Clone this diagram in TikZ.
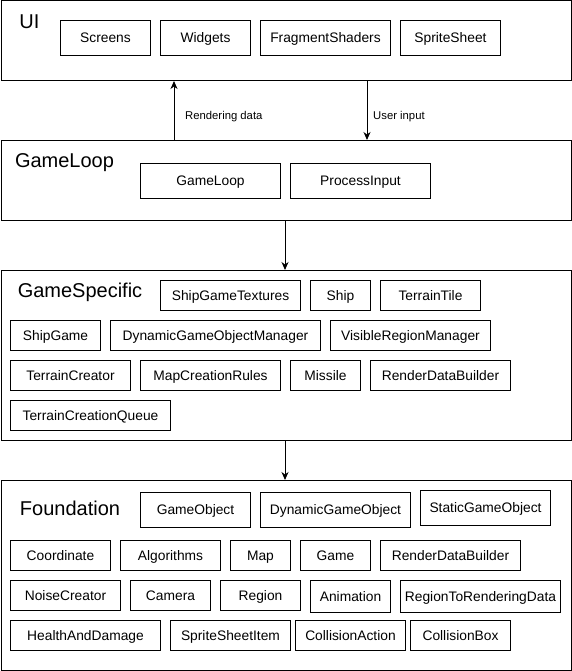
\documentclass[tikz,border=0pt]{standalone}
\usepackage{fontspec}
\setmainfont{Liberation Sans}
\usetikzlibrary{arrows.meta}
\begin{document}
\begin{tikzpicture}[x=1pt,y=-1pt,
  container/.style={draw, line width=1pt, anchor=north west, inner sep=0pt, fill=white},
  box/.style={draw, line width=1pt, anchor=north west, inner sep=0pt, text height=9.88pt, text depth=0pt, font=\fontsize{13.8}{16}\selectfont},
  title/.style={anchor=center, inner sep=0pt, text height=14.32pt, text depth=0pt, font=\fontsize{20}{24}\selectfont},
  lbl/.style={anchor=west, inner sep=0pt, text height=8.09pt, text depth=0pt, font=\fontsize{11.3}{13}\selectfont},
  conn/.style={line width=1pt, -{Stealth[length=8pt,width=7pt,inset=2.5pt]}}]
\useasboundingbox (0,0) rectangle (571,671);
% containers
\node[container, minimum width=570, minimum height=79.5] (ui) at (0.5,0.5) {};
\node[container, minimum width=570, minimum height=80] (glc) at (0.5,140) {};
\node[container, minimum width=570, minimum height=170] (gsc) at (0.5,270) {};
\node[container, minimum width=570, minimum height=190] (fdc) at (0.5,480) {};
% titles
\node[title] (tui) at (29.5,21) {UI};
\node[title] (tgl) at (64.5,160.3) {GameLoop};
\node[title] (tgs) at (80,290.3) {GameSpecific};
\node[title] (tfd) at (70,508) {Foundation};
% UI
\node[box, minimum width=90, minimum height=35] (screens) at (60,20) {Screens};
\node[box, minimum width=90, minimum height=35] (widgets) at (160,20) {Widgets};
\node[box, minimum width=130, minimum height=35] (frag) at (260,20) {FragmentShaders};
\node[box, minimum width=100, minimum height=35] (sprite) at (400,20) {SpriteSheet};
% GameLoop
\node[box, minimum width=140, minimum height=35] (gameloop) at (140,163) {GameLoop};
\node[box, minimum width=140, minimum height=35] (procin) at (290,163) {ProcessInput};
% GameSpecific
\node[box, minimum width=140, minimum height=30] (sgt) at (160,280) {ShipGameTextures};
\node[box, minimum width=60, minimum height=30] (ship) at (310,280) {Ship};
\node[box, minimum width=100, minimum height=30] (ttile) at (380,280) {TerrainTile};
\node[box, minimum width=90, minimum height=30] (shipgame) at (10,320) {ShipGame};
\node[box, minimum width=210, minimum height=30] (dgom) at (110,320) {DynamicGameObjectManager};
\node[box, minimum width=160, minimum height=30] (vrm) at (330,320) {VisibleRegionManager};
\node[box, minimum width=120, minimum height=30] (tcreator) at (10,360) {TerrainCreator};
\node[box, minimum width=140, minimum height=30] (mcr) at (140,360) {MapCreationRules};
\node[box, minimum width=70, minimum height=30] (missile) at (290,360) {Missile};
\node[box, minimum width=140, minimum height=30] (rdb1) at (370,360) {RenderDataBuilder};
\node[box, minimum width=160, minimum height=30] (tcq) at (10,400) {TerrainCreationQueue};
% Foundation
\node[box, minimum width=110, minimum height=35] (gobj) at (140,492) {GameObject};
\node[box, minimum width=150, minimum height=35] (dgobj) at (260,492) {DynamicGameObject};
\node[box, minimum width=130, minimum height=35] (sgobj) at (420,490) {StaticGameObject};
\node[box, minimum width=100, minimum height=30] (coord) at (10,540) {Coordinate};
\node[box, minimum width=100, minimum height=30] (algo) at (120,540) {Algorithms};
\node[box, minimum width=60, minimum height=30] (map) at (230,540) {Map};
\node[box, minimum width=70, minimum height=30] (game) at (300,540) {Game};
\node[box, minimum width=140, minimum height=30] (rdb2) at (380,540) {RenderDataBuilder};
\node[box, minimum width=110, minimum height=30] (noise) at (10,580) {NoiseCreator};
\node[box, minimum width=80, minimum height=30] (camera) at (130,580) {Camera};
\node[box, minimum width=80, minimum height=30] (region) at (220,580) {Region};
\node[box, minimum width=80, minimum height=32] (anim) at (310,580) {Animation};
\node[box, minimum width=160, minimum height=32] (r2rd) at (400,580) {RegionToRenderingData};
\node[box, minimum width=150, minimum height=30] (had) at (10,620) {HealthAndDamage};
\node[box, minimum width=120, minimum height=30] (ssi) at (170,620) {SpriteSheetItem};
\node[box, minimum width=110, minimum height=30] (cact) at (295,620) {CollisionAction};
\node[box, minimum width=100, minimum height=30] (cbox) at (410,620) {CollisionBox};
% connectors
\coordinate (xr) at (174,0);
\coordinate (xu) at (367,0);
\coordinate (xm) at (285,0);
\draw[conn] (xr |- glc.north) -- (xr |- ui.south);
\draw[conn] (xu |- ui.south) -- (xu |- glc.north);
\draw[conn] (xm |- glc.south) -- (xm |- gsc.north);
\draw[conn] (xm |- gsc.south) -- (xm |- fdc.north);
\node[lbl] (lrd) at (185,115.8) {Rendering data};
\node[lbl] (lui) at (373,115.8) {User input};
\end{tikzpicture}
\end{document}
